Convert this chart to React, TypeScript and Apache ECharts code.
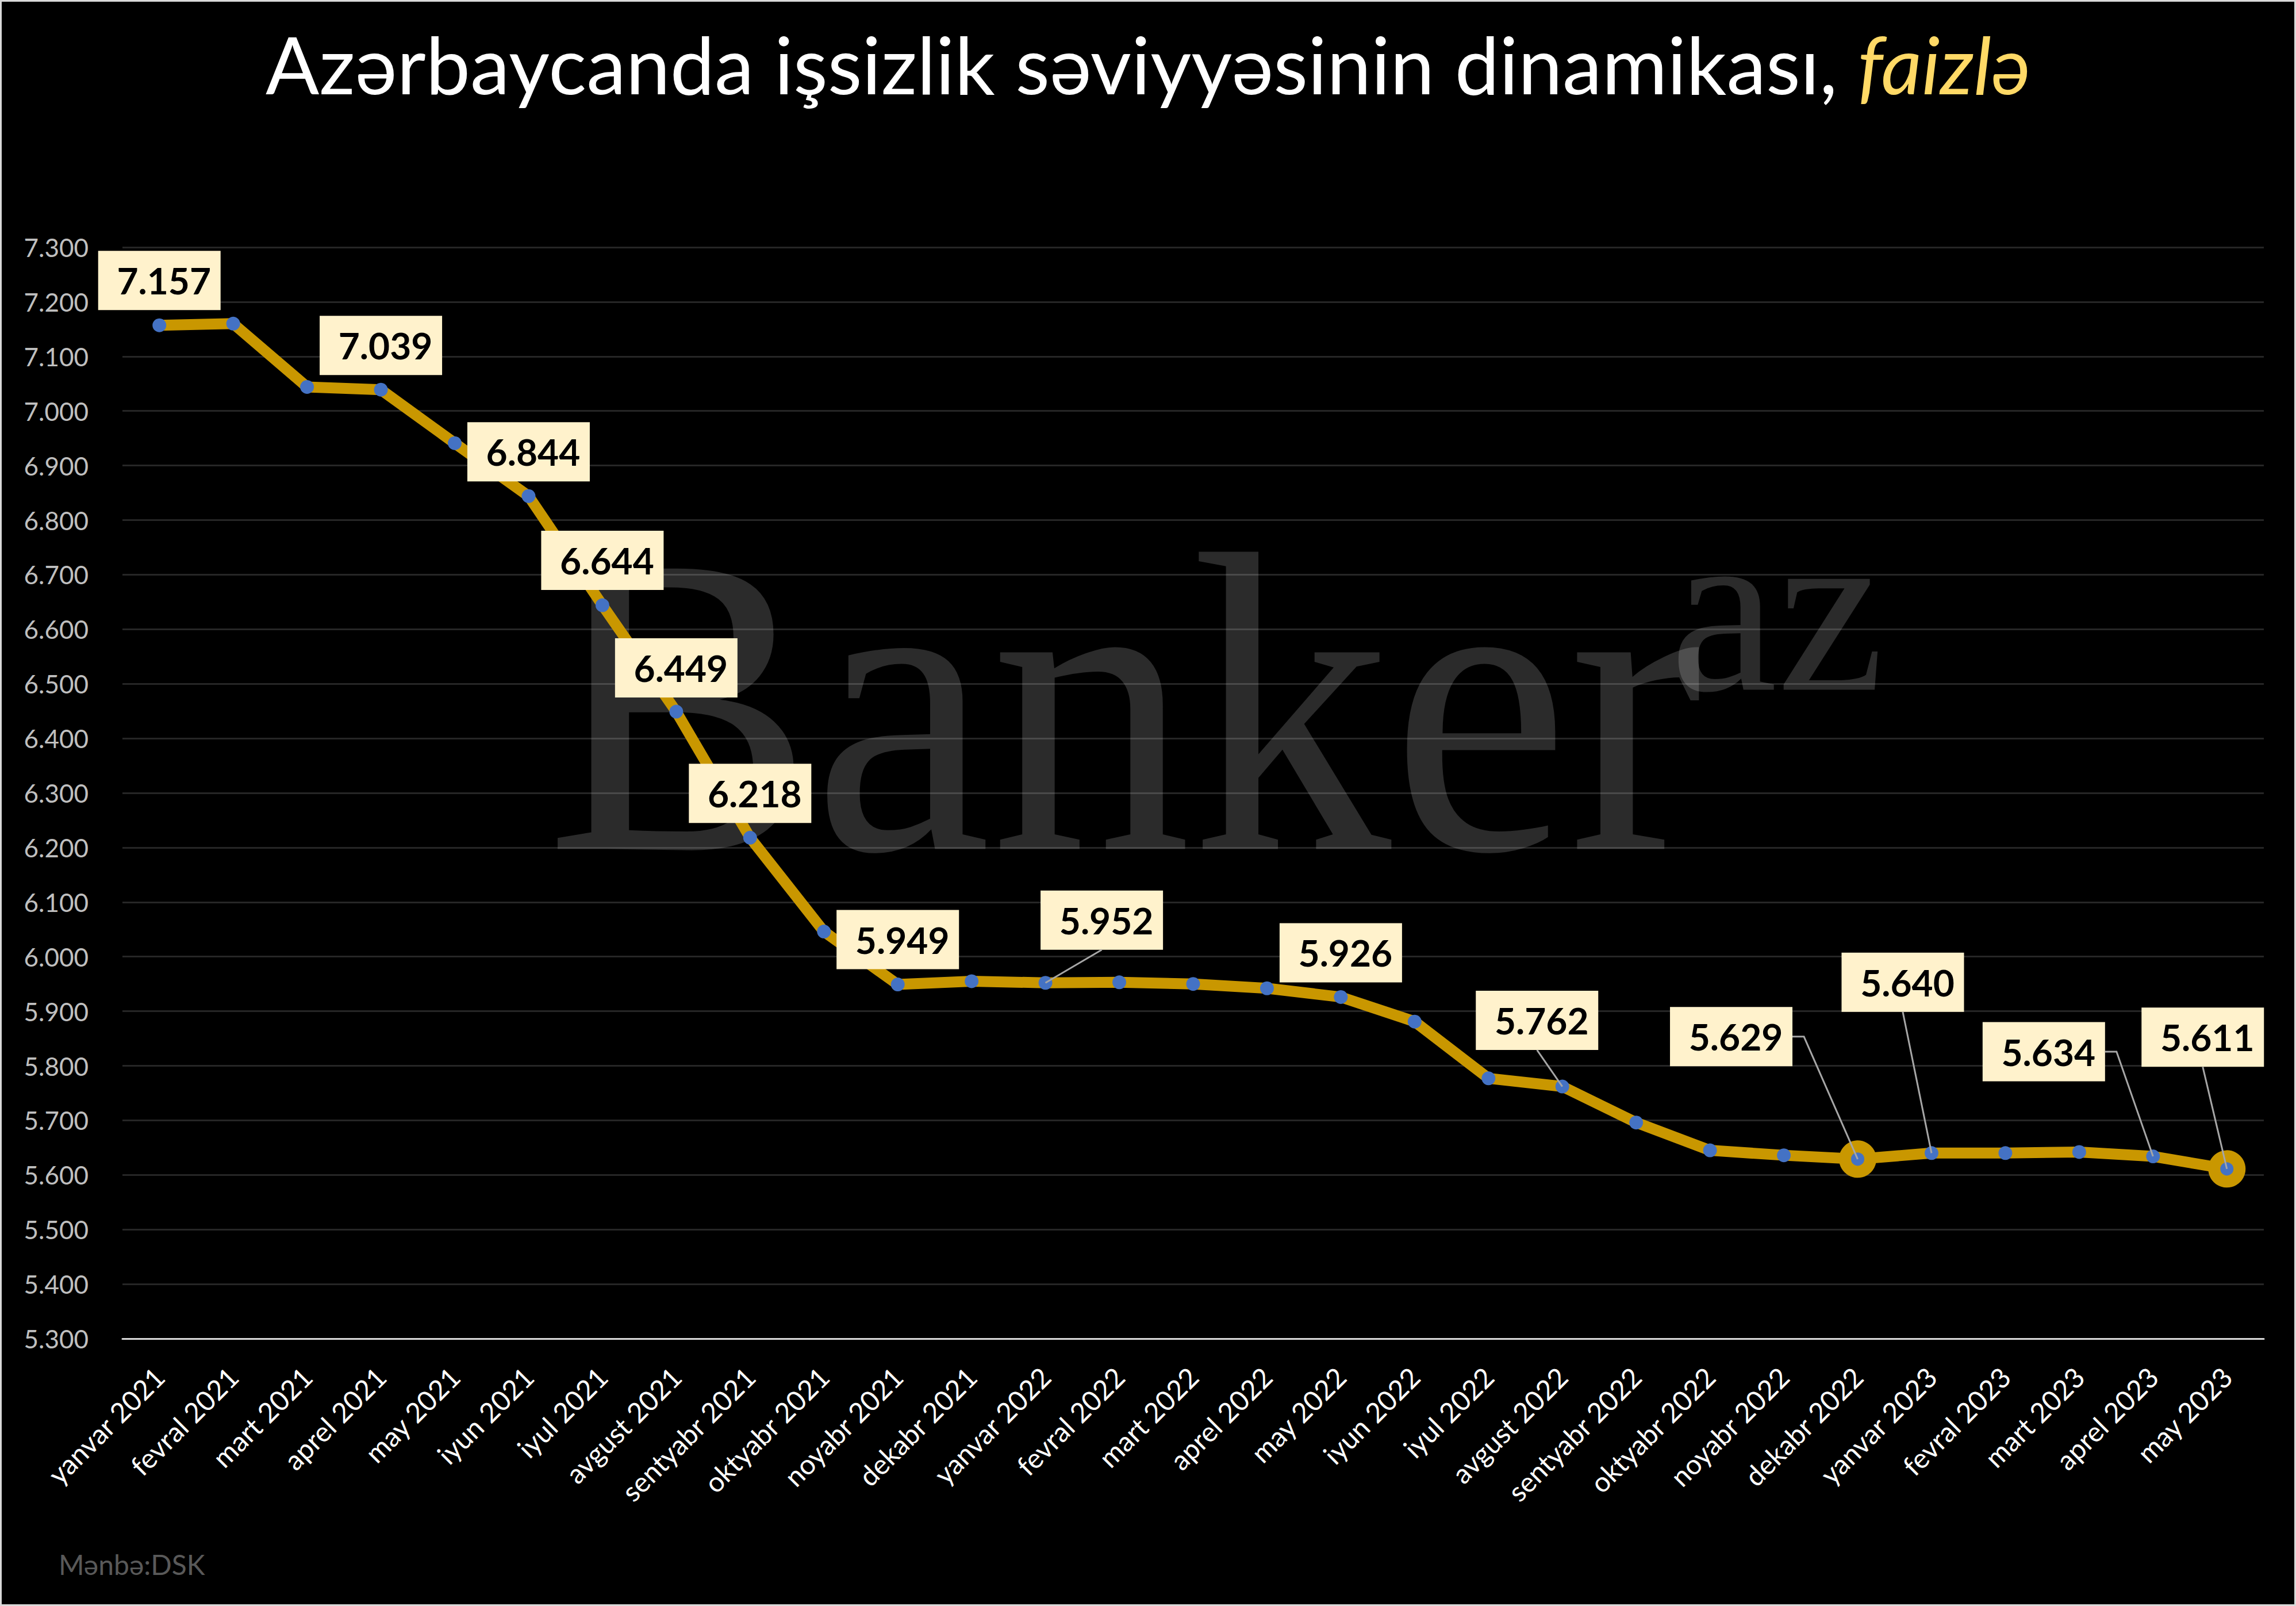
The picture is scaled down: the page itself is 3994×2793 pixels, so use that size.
import React, { useEffect, useRef } from 'react';
import * as echarts from 'echarts';

// ---------- data ----------
const months: string[] = [
  'yanvar 2021', 'fevral 2021', 'mart 2021', 'aprel 2021', 'may 2021', 'iyun 2021',
  'iyul 2021', 'avgust 2021', 'sentyabr 2021', 'oktyabr 2021', 'noyabr 2021', 'dekabr 2021',
  'yanvar 2022', 'fevral 2022', 'mart 2022', 'aprel 2022', 'may 2022', 'iyun 2022',
  'iyul 2022', 'avgust 2022', 'sentyabr 2022', 'oktyabr 2022', 'noyabr 2022', 'dekabr 2022',
  'yanvar 2023', 'fevral 2023', 'mart 2023', 'aprel 2023', 'may 2023',
];

const rates: number[] = [
  7.157, 7.160, 7.044, 7.039, 6.941, 6.844,
  6.644, 6.449, 6.218, 6.046, 5.949, 5.955,
  5.952, 5.953, 5.950, 5.942, 5.926, 5.881,
  5.777, 5.762, 5.696, 5.645, 5.636, 5.629,
  5.640, 5.640, 5.642, 5.634, 5.611,
];

// indices of months whose value is shown in a label box
const labelledIdx: number[] = [0, 3, 5, 6, 7, 8, 10, 12, 16, 19, 23, 24, 27, 28];
// indices of months drawn with a large highlight marker
const highlightedIdx: number[] = [23, 28];

const yMin = 5.3;
const yMax = 7.3;
const yStep = 0.1;

const titleMain = 'Azərbaycanda işsizlik səviyyəsinin dinamikası, ';
const titleUnit = 'faizlə';
const sourceText = 'Mənbə:DSK';

// ---------- layout / style ----------
const W = 3994;
const H = 2793;
const GOLD = '#c99700';
const BLUE = '#4472c4';
const BOX_W = 213;
const BOX_H = 103;
const FONT = 'Lato, "Open Sans", sans-serif';

// label box centre offset from its point, in px
const labelOffset: Record<number, [number, number]> = {
  0: [0, -78], 3: [0, -77], 5: [0, -77], 6: [0, -78], 7: [0, -76], 8: [0, -77],
  10: [0, -78], 12: [98, -109], 16: [0, -77], 19: [-44, -115],
  23: [-220, -213], 24: [-50, -297], 27: [-190, -182], 28: [-42, -229],
};
// which side of the box a leader line starts from
const leaderSide: Record<number, 'bottom' | 'right'> = {
  12: 'bottom', 19: 'bottom', 23: 'right', 24: 'bottom', 27: 'right', 28: 'bottom',
};

export default function App() {
  const ref = useRef<HTMLDivElement>(null);

  useEffect(() => {
    document.body.style.margin = '0';
    document.body.style.background = '#000';
    if (!ref.current) return;
    const chart = echarts.init(ref.current, null, { renderer: 'svg' });

    const lineData = rates.map((v, i) => {
      const hl = highlightedIdx.includes(i);
      const labelled = labelledIdx.includes(i);
      return {
        value: v,
        symbolSize: hl ? 44 : 24,
        itemStyle: hl
          ? { color: BLUE, borderColor: GOLD, borderWidth: 21 }
          : { color: BLUE, borderWidth: 0 },
        label: labelled ? { show: true, offset: labelOffset[i] } : { show: false },
      };
    });

    const leaderData = Object.keys(leaderSide).map((k) => {
      const i = Number(k);
      return [i, rates[i]];
    });

    const option: any = {
      animation: false,
      backgroundColor: '#000',
      title: {
        text: `{a|${titleMain}}{b|${titleUnit}}`,
        left: 'center',
        top: 30,
        textStyle: {
          fontWeight: 'normal',
          rich: {
            a: { fontSize: 138, fontFamily: FONT, fontWeight: 'normal', color: '#ffffff', lineHeight: 150 },
            b: { fontSize: 138, fontFamily: FONT, fontWeight: 'normal', color: '#ffd966', fontStyle: 'italic', lineHeight: 150 },
          },
        },
      },
      grid: {
        left: 213,
        right: W - 3938,
        top: 430,
        bottom: H - 2328,
        outerBoundsMode: 'none',
        containLabel: false,
      },
      xAxis: {
        type: 'category',
        data: months,
        boundaryGap: true,
        axisTick: { show: false },
        axisLine: { show: true, lineStyle: { color: '#d9d9d9', width: 3 } },
        axisLabel: {
          interval: 0,
          rotate: 45,
          margin: 58,
          color: '#ffffff',
          fontSize: 48,
          fontFamily: FONT,
        },
        splitLine: { show: false },
      },
      yAxis: {
        type: 'value',
        min: yMin,
        max: yMax,
        interval: yStep,
        axisLine: { show: false },
        axisTick: { show: false },
        axisLabel: {
          color: '#bfbfbf',
          fontSize: 44,
          fontFamily: FONT,
          margin: 59,
          formatter: (v: number) => v.toFixed(3),
        },
        splitLine: { show: true, lineStyle: { color: '#262626', width: 3 } },
      },
      graphic: [
        {
          type: 'rect',
          z: 100,
          silent: true,
          shape: { x: 0, y: 0, width: W, height: H },
          style: { fill: 'none', stroke: '#d9d9d9', lineWidth: 6 },
        },
        {
          type: 'text',
          x: 950,
          y: 1225,
          scaleX: 0.935,
          z: 1,
          silent: true,
          style: {
            text: 'Banker',
            fontSize: 745,
            fontFamily: '"Liberation Serif", serif',
            fill: 'rgba(255,255,255,0.17)',
            align: 'left',
            textAlign: 'left',
            verticalAlign: 'middle',
            textVerticalAlign: 'middle',
          },
        },
        {
          type: 'text',
          x: 2905,
          y: 1058,
          z: 1,
          silent: true,
          style: {
            text: 'az',
            fontSize: 420,
            fontFamily: '"Liberation Serif", serif',
            fill: 'rgba(255,255,255,0.17)',
            align: 'left',
            textAlign: 'left',
            verticalAlign: 'middle',
            textVerticalAlign: 'middle',
          },
        },
        {
          type: 'text',
          x: 102,
          y: 2720,
          z: 5,
          silent: true,
          style: {
            text: sourceText,
            fontSize: 48,
            fontFamily: FONT,
            fill: '#595959',
            align: 'left',
            textAlign: 'left',
            verticalAlign: 'middle',
            textVerticalAlign: 'middle',
          },
        },
      ],
      series: [
        {
          type: 'line',
          data: lineData,
          z: 2,
          symbol: 'circle',
          showAllSymbol: true,
          lineStyle: { color: GOLD, width: 19, cap: 'round', join: 'round' },
          itemStyle: { color: BLUE },
          emphasis: { disabled: true },
          label: {
            position: 'inside',
            formatter: (p: any) => Number(p.value).toFixed(3),
            backgroundColor: '#fff2cc',
            color: '#000000',
            fontFamily: FONT,
            fontWeight: 'bold',
            fontSize: 64,
            width: BOX_W - 16,
            height: BOX_H,
            lineHeight: BOX_H,
            padding: [0, 0, 0, 16],
            align: 'center',
            verticalAlign: 'middle',
          },
        },
        {
          type: 'custom',
          z: 3,
          silent: true,
          data: leaderData,
          renderItem: (params: any, api: any) => {
            const i = api.value(0);
            const pt = api.coord([i, api.value(1)]);
            const off = labelOffset[i];
            const cx = pt[0] + off[0];
            const cy = pt[1] + off[1];
            const pts =
              leaderSide[i] === 'right'
                ? [[cx + BOX_W / 2, cy], [cx + BOX_W / 2 + 20, cy], [pt[0], pt[1]]]
                : [[cx, cy + BOX_H / 2], [pt[0], pt[1]]];
            return {
              type: 'polyline',
              shape: { points: pts },
              style: { stroke: '#a6a6a6', lineWidth: 3, fill: 'none' },
            };
          },
        },
      ],
    };

    chart.setOption(option);
    return () => chart.dispose();
  }, []);

  return <div ref={ref} style={{ width: W, height: H }} />;
}
